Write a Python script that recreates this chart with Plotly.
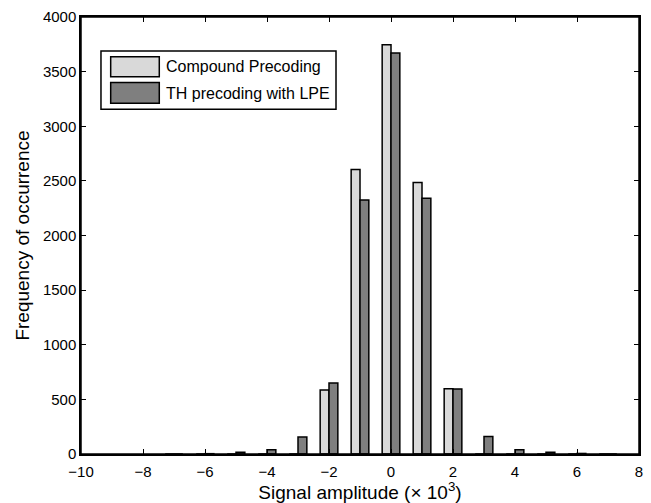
import plotly.graph_objects as go

bins = [-7, -6, -5, -4, -3, -2, -1, 0, 1, 2, 3, 4, 5, 6, 7]
compound = [0, 0, 0, 0, 0, 585, 2605, 3745, 2485, 598, 0, 0, 0, 0, 0]
th_lpe = [0, 3, 15, 40, 155, 650, 2325, 3670, 2340, 596, 160, 40, 15, 5, 0]
names = ["Compound Precoding", "TH precoding with LPE"]
colors = ["#d9d9d9", "#7f7f7f"]
x_ticks = [-10, -8, -6, -4, -2, 0, 2, 4, 6, 8]
y_ticks = [0, 500, 1000, 1500, 2000, 2500, 3000, 3500, 4000]

fig = go.Figure()
for name, vals, col in zip(names, [compound, th_lpe], colors):
    fig.add_trace(go.Bar(
        x=bins, y=vals, name=name, showlegend=False,
        marker=dict(color=col, line=dict(color="black", width=1.5)),
    ))

font = "Liberation Sans, Arial, sans-serif"

# manual legend (paper coordinates)
shapes = [
    dict(type="rect", xref="paper", yref="paper", x0=0, x1=1, y0=0, y1=1,
         line=dict(color="black", width=1.5), layer="above"),
    dict(type="rect", xref="paper", yref="paper", x0=0.0358, x1=0.457, y0=0.789, y1=0.922,
         line=dict(color="black", width=1.5), fillcolor="white", layer="above"),
]
annotations = []
sw_y = [(0.863, 0.909), (0.8025, 0.850)]
tx_y = [0.886, 0.826]
for (y0, y1), ty, name, col in zip(sw_y, tx_y, names, colors):
    shapes.append(dict(type="rect", xref="paper", yref="paper", x0=0.0532, x1=0.1403,
                       y0=y0, y1=y1, line=dict(color="black", width=1.5),
                       fillcolor=col, layer="above"))
    annotations.append(dict(xref="paper", yref="paper", x=0.1487, y=ty, text=name,
                            showarrow=False, xanchor="left", yanchor="middle",
                            font=dict(size=16, family=font, color="black")))

fig.update_layout(
    width=651, height=503,
    margin=dict(l=81, r=12, t=17, b=49),
    plot_bgcolor="white", paper_bgcolor="white",
    barmode="group", bargap=0.43, bargroupgap=0,
    font=dict(family=font, size=15, color="black"),
    shapes=shapes, annotations=annotations,
    xaxis=dict(
        range=[-10, 8], tickvals=x_ticks,
        ticks="inside", ticklen=5, tickcolor="black", tickwidth=1.2,
        showline=True, linecolor="black", linewidth=1.5, mirror="ticks",
        showgrid=False, zeroline=False, automargin=False,
        tickfont=dict(size=15), ticklabelstandoff=3,
        title=dict(text="Signal amplitude (× 10<sup>3</sup>)", font=dict(size=19), standoff=0),
    ),
    yaxis=dict(
        range=[0, 4000], tickvals=y_ticks,
        ticks="inside", ticklen=5, tickcolor="black", tickwidth=1.2,
        showline=True, linecolor="black", linewidth=1.5, mirror="ticks",
        showgrid=False, zeroline=False, automargin=False,
        tickfont=dict(size=15),
        title=dict(text="Frequency of occurrence", font=dict(size=19), standoff=8),
    ),
)

fig.write_html(
    "out.html",
    config={"displayModeBar": False},
    post_script="document.body.style.margin='0';document.body.style.overflow='hidden';",
)
